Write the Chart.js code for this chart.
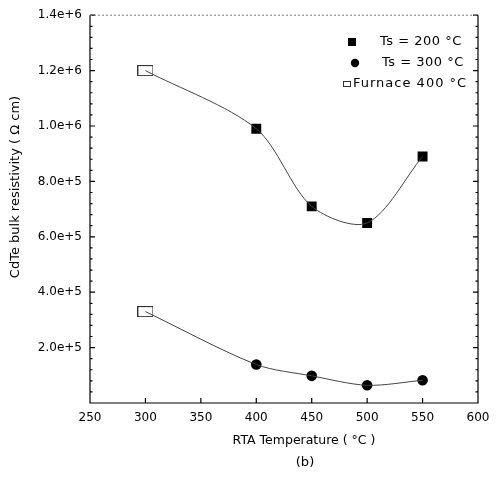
<!DOCTYPE html>
<html>
<head>
<meta charset="utf-8">
<script src="https://cdn.jsdelivr.net/npm/chart.js@4.4.1/dist/chart.umd.min.js"></script>
<style>
body { margin: 0; background: #fff; }
</style>
</head>
<body>
<canvas id="rtaChart" width="498" height="477"></canvas>
<script>
// RTA temperature (deg C) vs CdTe bulk resistivity (ohm cm)
const rtaTemps = [400, 450, 500, 550];
const ts200 = [9.9e5, 7.1e5, 6.5e5, 8.9e5];
const ts300 = [1.39e5, 0.98e5, 0.64e5, 0.82e5];
const furnaceTemp = [300];
const furnace200 = [1.2e6];
const furnace300 = [3.3e5];
const xTicks = [250, 300, 350, 400, 450, 500, 550, 600];
const yTicks = [0, 2e5, 4e5, 6e5, 8e5, 1.0e6, 1.2e6, 1.4e6];
const legendLabels = ['Ts = 200 °C', 'Ts = 300 °C', 'Furnace 400 °C'];

const FONT = "'DejaVu Sans', sans-serif";
const ink = '#000';

function pts(xs, ys) {
    return xs.map((x, i) => ({x: x, y: ys[i]}));
}

// open rectangle used for the furnace points
function openRect(w, h) {
    const c = document.createElement('canvas');
    c.width = w; c.height = h;
    const g = c.getContext('2d');
    g.strokeStyle = '#333';
    g.lineWidth = 1;
    g.strokeRect(0.5, 0.5, w - 1, h - 1);
    return c;
}
const furnaceMark = openRect(16, 11);
const furnaceLegend = openRect(8, 6);

const curve = (data) => ({
    data: data, borderColor: '#444', borderWidth: 1, pointRadius: 0,
    tension: 0.3, fill: false
});
const marks = (data, style, r) => ({
    data: data, showLine: false, pointStyle: style, pointRadius: r,
    backgroundColor: '#000', borderColor: '#000', borderWidth: 0
});

// frame, inward ticks, titles and legend
const decor = {
    id: 'decor',
    afterDatasetsDraw(chart) {
        const ctx = chart.ctx, a = chart.chartArea;
        const xs = chart.scales.x, ys = chart.scales.y;
        ctx.save();
        ctx.strokeStyle = '#000';
        ctx.lineWidth = 1.2;
        ctx.beginPath();
        ctx.moveTo(a.left, a.top); ctx.lineTo(a.left, a.bottom);
        ctx.lineTo(a.right, a.bottom); ctx.lineTo(a.right, a.top);
        // major ticks on x
        xTicks.forEach(v => {
            const p = xs.getPixelForValue(v);
            ctx.moveTo(p, a.bottom); ctx.lineTo(p, a.bottom - 5);
        });
        // y ticks, minor every 4e4
        for (let v = 0; v <= 1.4e6 + 1; v += 4e4) {
            const p = ys.getPixelForValue(v);
            const major = yTicks.some(t => Math.abs(t - v) < 1);
            const len = major ? 5 : 2.5;
            ctx.moveTo(a.left, p); ctx.lineTo(a.left + len, p);
            ctx.moveTo(a.right, p); ctx.lineTo(a.right - len, p);
        }
        ctx.stroke();
        ctx.strokeStyle = '#777';
        ctx.lineWidth = 1;
        ctx.setLineDash([2, 2]);
        ctx.beginPath();
        ctx.moveTo(a.left, a.top); ctx.lineTo(a.right, a.top);
        ctx.stroke();
        ctx.setLineDash([]);

        // titles
        ctx.fillStyle = ink;
        ctx.font = '12.5px ' + FONT;
        ctx.textAlign = 'center';
        ctx.textBaseline = 'middle';
        ctx.fillText('RTA Temperature ( °C )', 304, 441);
        ctx.font = '13px ' + FONT;
        ctx.fillText('(b)', 305, 463);
        ctx.save();
        ctx.font = '13px ' + FONT;
        ctx.translate(16, 187);
        ctx.rotate(-Math.PI / 2);
        ctx.fillText('CdTe bulk resistivity ( Ω cm)', 0, 0);
        ctx.restore();

        // legend
        ctx.font = '13px ' + FONT;
        ctx.letterSpacing = '0.5px';
        ctx.textAlign = 'left';
        ctx.fillStyle = '#000';
        ctx.fillRect(348, 38, 8, 8);
        ctx.beginPath();
        ctx.arc(355, 63, 4.2, 0, Math.PI * 2);
        ctx.fill();
        ctx.drawImage(furnaceLegend, 343, 81);
        ctx.fillStyle = ink;
        ctx.fillText(legendLabels[0], 380, 42);
        ctx.fillText(legendLabels[1], 382, 63);
        ctx.letterSpacing = '1px';
        ctx.fillText(legendLabels[2], 353, 84);
        ctx.restore();
    }
};

const ctx = document.getElementById('rtaChart').getContext('2d');
const rtaChart = new Chart(ctx, {
    type: 'line',
    data: {
        datasets: [
            curve(pts(furnaceTemp.concat(rtaTemps), furnace200.concat(ts200))),
            curve(pts(furnaceTemp.concat(rtaTemps), furnace300.concat(ts300))),
            marks(pts(rtaTemps, ts200), 'rect', 7),
            marks(pts(rtaTemps, ts300), 'circle', 5.3),
            marks(pts(furnaceTemp.concat(furnaceTemp), furnace200.concat(furnace300)), furnaceMark, 8)
        ]
    },
    options: {
        responsive: false,
        animation: false,
        layout: { padding: { top: 15, right: 20, left: 0, bottom: 0 } },
        plugins: { legend: { display: false }, tooltip: { enabled: false } },
        scales: {
            x: {
                type: 'linear', min: 250, max: 600,
                grid: { display: false, drawTicks: false },
                border: { display: false },
                ticks: { stepSize: 50, padding: 8, color: ink, font: { size: 12, family: FONT } },
                afterFit: s => { s.height = 74; }
            },
            y: {
                min: 0, max: 1.4e6,
                grid: { display: false, drawTicks: false },
                border: { display: false },
                ticks: {
                    stepSize: 2e5, padding: 8, color: ink, font: { size: 12, family: FONT },
                    callback: v => v === 0 ? '' : v.toExponential(1)
                },
                afterFit: s => { s.width = 90; }
            }
        }
    },
    plugins: [decor]
});
</script>
</body>
</html>
